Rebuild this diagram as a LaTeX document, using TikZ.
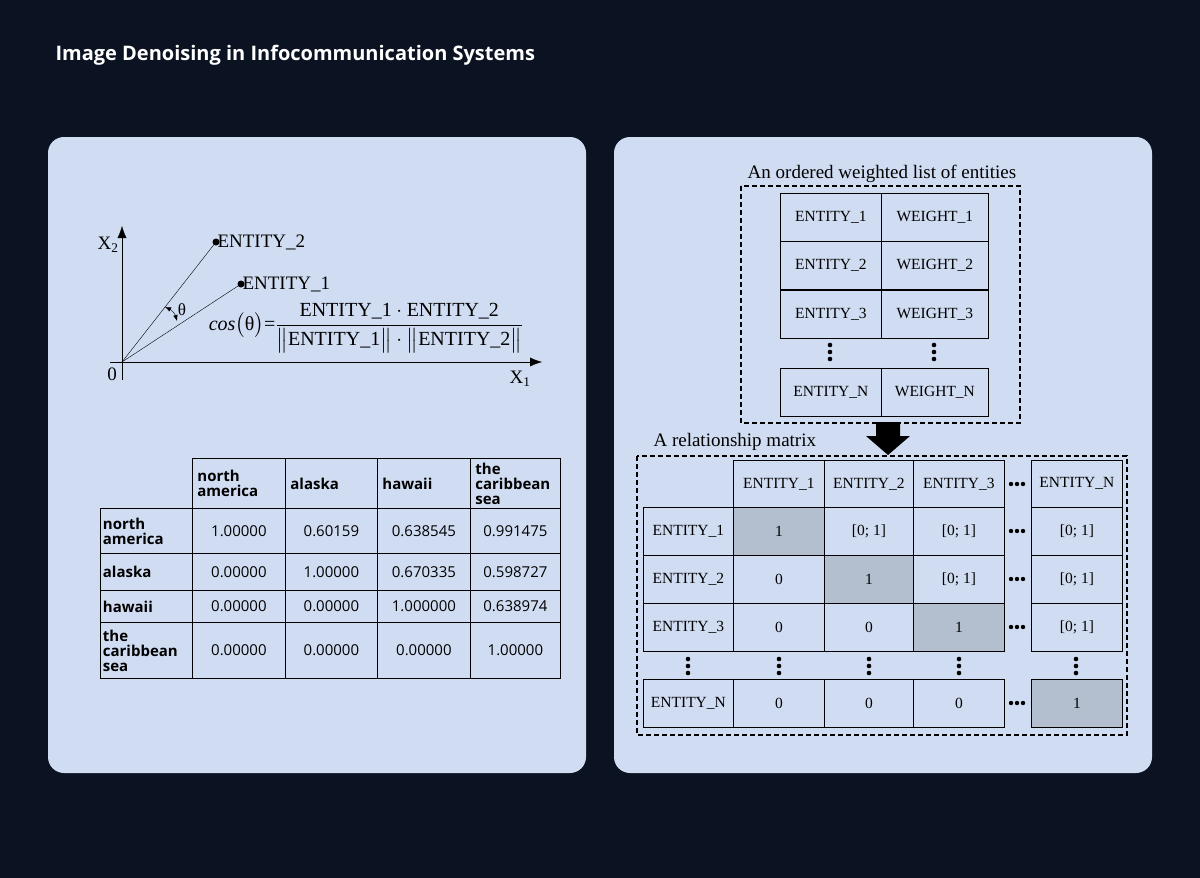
\documentclass[tikz,border=0pt]{standalone}
\usepackage{amsmath}
\usepackage{fontspec}
\setmainfont{Liberation Serif}
\setsansfont{Open Sans}
\usetikzlibrary{positioning,arrows.meta}
\definecolor{navy}{HTML}{0B1221}
\definecolor{panel}{HTML}{CFDCF1}
\definecolor{cellgray}{HTML}{B3BECE}
\tikzset{
	panelbox/.style={fill=panel,rounded corners=16pt},
	cell/.style={draw,thick,minimum width=#1,minimum height=48pt,inner sep=0pt,font=\fontsize{15.5}{17}\selectfont},
	cell/.default=91pt,
	tcell/.style={draw,thick,inner sep=0pt,font=\sffamily\fontsize{15}{15}\selectfont},
	dashbox/.style={line width=1.2pt,dash pattern=on 5pt off 3pt},
}
\begin{document}
\begin{tikzpicture}[x=1pt,y=-1pt]
	\fill[navy] (0,0) rectangle (1200,878);
	\node[anchor=west,text=white,font=\sffamily\bfseries\fontsize{20}{22}\selectfont] (title) at (52,55) {Image Denoising in Infocommunication Systems};
	\fill[panelbox] (48,137) rectangle (586,773);
	\fill[panelbox] (614,137) rectangle (1152,773);
	% vector plot
	\coordinate (o) at (122,362);
	\coordinate (e2) at (216,242);
	\coordinate (e1) at (241,284);
	\draw[-{Latex[length=12pt]}] (122,380) -- (122,226);
	\draw[-{Latex[length=12pt]}] (110,362) -- (542,362);
	\draw (o) -- (e2);
	\draw (o) -- (e1);
	\fill (e2) circle (3.5pt) node[right=-2pt,font=\fontsize{19}{19}\selectfont] {ENTITY\_2};
	\fill (e1) circle (3.5pt) node[right=-2pt,font=\fontsize{19}{19}\selectfont] {ENTITY\_1};
	\draw[{Latex[length=6pt]}-{Latex[length=6pt]}] (165,307) to[bend left=25] (177,321);
	\node[font=\fontsize{17}{17}\selectfont] (theta) at (182,310) {θ};
	\node[font=\fontsize{19}{19}\selectfont] (x2) at (108,245) {X\textsubscript{2}};
	\node[font=\fontsize{19}{19}\selectfont] (zero) at (112,374) {0};
	\node[font=\fontsize{19}{19}\selectfont] (x1) at (520,379) {X\textsubscript{1}};
	\node[font=\fontsize{20}{20}\selectfont] (cosf) at (366,328) {\textit{cos}\big(θ\big)=$\dfrac{\text{ENTITY\_1}\cdot\text{ENTITY\_2}}{\big\|\text{ENTITY\_1}\big\|\cdot\big\|\text{ENTITY\_2}\big\|}$};
	% similarity table
	\foreach \c/\xa/\xb/\t in {1/192/285/{north\\america},2/285/377/alaska,3/377/470/hawaii,4/470/560/{the\\caribbean\\sea}} {
		\pgfmathsetmacro\tw{\xb-\xa-10}
		\node[tcell,minimum width=\xb pt-\xa pt,minimum height=50pt,anchor=north west,font=\sffamily\bfseries\fontsize{15}{15}\selectfont,align=left,text width=\tw pt] (h\c) at (\xa,458) {\t};
	}
	\foreach \r/\ya/\yb/\t/\va/\vb/\vc/\vd in {
		1/508/553/{north\\america}/1.00000/0.60159/0.638545/0.991475,
		2/553/590/alaska/0.00000/1.00000/0.670335/0.598727,
		3/590/622/hawaii/0.00000/0.00000/1.000000/0.638974,
		4/622/678/{the\\caribbean\\sea}/0.00000/0.00000/0.00000/1.00000} {
		\node[tcell,minimum width=92pt,minimum height=\yb pt-\ya pt,anchor=north west,font=\sffamily\bfseries\fontsize{15}{15}\selectfont,align=left,text width=87pt] (r\r) at (100,\ya) {\t};
		\foreach \c/\xa/\xb/\v in {1/192/285/\va,2/285/377/\vb,3/377/470/\vc,4/470/560/\vd}
			\node[tcell,minimum width=\xb pt-\xa pt,minimum height=\yb pt-\ya pt,anchor=north west] (t\r\c) at (\xa,\ya) {\v};
	}
	% ordered list
	\draw[dashbox] (741,186) rectangle (1020,423);
	\node[font=\fontsize{19}{19}\selectfont] (listlbl) at (882,174) {An ordered weighted list of entities};
	\foreach \r/\y in {1/193,2/241,3/290} {
		\node[cell=101pt,anchor=north west] (le\r) at (780,\y) {ENTITY\_\r};
		\node[cell=107pt,anchor=north west] (lw\r) at (881,\y) {WEIGHT\_\r};
	}
	\foreach \x in {830,934}
		\foreach \d in {-7,0,7} \fill (\x,352+\d) circle (2.3pt);
	\node[cell=101pt,anchor=north west] (len) at (780,368) {ENTITY\_N};
	\node[cell=107pt,anchor=north west] (lwn) at (881,368) {WEIGHT\_N};
	\fill (876,422) -- (900,422) -- (900,436) -- (910,436) -- (888,455) -- (866,436) -- (876,436) -- cycle;
	% relationship matrix
	\draw[dashbox] (637,456) rectangle (1127,735);
	\node[anchor=west,font=\fontsize{19}{19}\selectfont] (matlbl) at (650,442) {A relationship matrix};
	\fill[cellgray] (733,507) rectangle (824,555) (824,555) rectangle (913,603) (913,603) rectangle (1004,651) (1031,679) rectangle (1122,727);
	\foreach \c/\x/\w/\t in {1/733/91/ENTITY\_1,2/824/89/ENTITY\_2,3/913/91/ENTITY\_3,n/1031/91/ENTITY\_N}
		\node[cell=\w pt,minimum height=47pt,anchor=north west] (ch\c) at (\x,460) {\t};
	\foreach \r/\l/\y/\a/\b/\c/\d in {1/1/507/1/[0; 1]/[0; 1]/[0; 1],2/2/555/0/1/[0; 1]/[0; 1],3/3/603/0/0/1/[0; 1],n/N/679/0/0/0/1} {
		\node[cell=90pt,anchor=north west] (rh\r) at (643,\y) {ENTITY\_\l};
		\foreach \k/\x/\w/\v in {1/733/91/\a,2/824/89/\b,3/913/91/\c,n/1031/91/\d}
			\node[cell=\w pt,anchor=north west] (m\r\k) at (\x,\y) {\v};
	}
	\foreach \y in {484,531,579,627,703}
		\foreach \d in {-6,0,6} \fill (1017+\d,\y) circle (2.2pt);
	\foreach \x in {688,779,869,959,1076}
		\foreach \d in {-7,0,7} \fill (\x,666+\d) circle (2.3pt);
\end{tikzpicture}
\end{document}
